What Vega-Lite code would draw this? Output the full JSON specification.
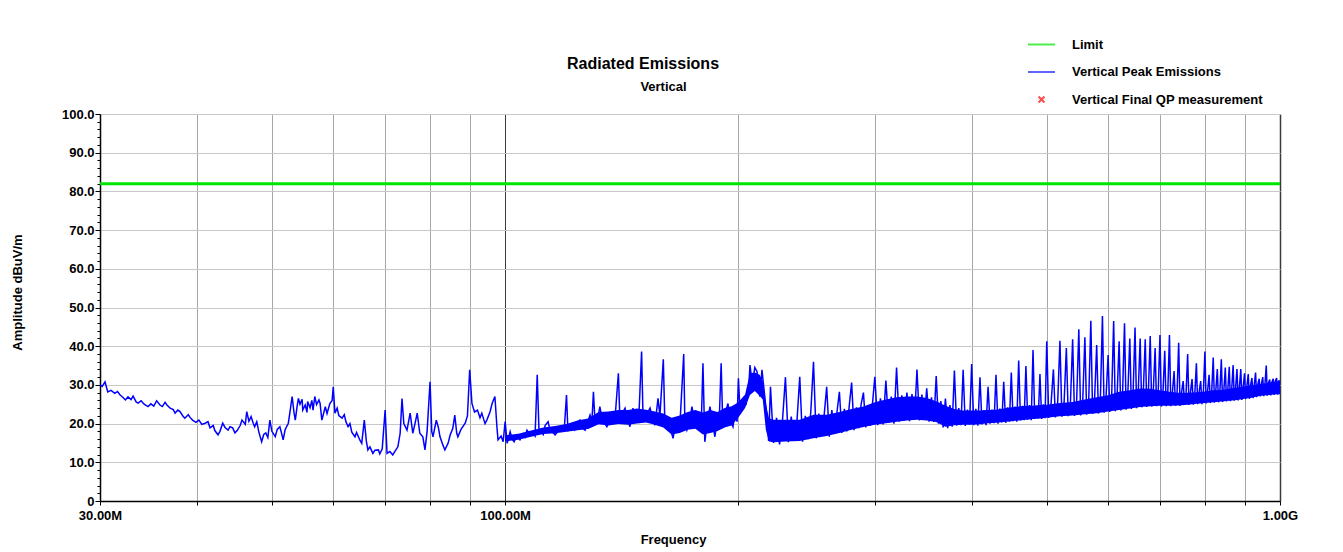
{
  "$schema": "https://vega.github.io/schema/vega-lite/v6.json",
  "autosize": {"type": "none"},
  "padding": {"left": 100, "top": 114, "right": 63, "bottom": 51},
  "width": 1180,
  "height": 387,
  "background": "#ffffff",
  "config": {
    "font": "Liberation Sans",
    "view": {"stroke": null},
    "title": {"color": "#000000"}
  },
  "title": {
    "text": "Radiated Emissions",
    "anchor": "middle",
    "dx": -47,
    "dy": 56,
    "offset": 14,
    "fontSize": 16,
    "fontWeight": "bold"
  },
  "resolve": {"axis": {"x": "independent", "y": "independent"}},
  "datasets": {
    "limit": [
      {"f": 30, "a": 82.0},
      {"f": 1000, "a": 82.0}
    ],
    "qp": [],
    "band": [
      {"f":100,"lo":15.4,"hi":17.0},{"f":104,"lo":15.8,"hi":17.4},{"f":108,"lo":16.6,"hi":18.2},
      {"f":112,"lo":17.3,"hi":19.0},{"f":116,"lo":17.5,"hi":19.4},{"f":120,"lo":17.9,"hi":19.9},
      {"f":124,"lo":18.3,"hi":20.8},{"f":128,"lo":18.6,"hi":21.3},{"f":132,"lo":19.8,"hi":23.0},
      {"f":136,"lo":19.5,"hi":23.1},{"f":140,"lo":19.9,"hi":23.5},{"f":144,"lo":19.7,"hi":23.5},
      {"f":148,"lo":20.0,"hi":23.9},{"f":152,"lo":20.3,"hi":23.6},{"f":156,"lo":19.7,"hi":23.1},
      {"f":160,"lo":19.0,"hi":22.6},{"f":164,"lo":17.2,"hi":21.5},{"f":168,"lo":17.6,"hi":22.1},
      {"f":172,"lo":18.4,"hi":23.0},{"f":176,"lo":18.7,"hi":23.5},{"f":180,"lo":17.2,"hi":22.9},
      {"f":184,"lo":17.6,"hi":23.5},{"f":188,"lo":18.1,"hi":23.0},{"f":192,"lo":19.0,"hi":24.0},
      {"f":196,"lo":19.5,"hi":24.5},{"f":200,"lo":21.6,"hi":25.5},{"f":204,"lo":24.0,"hi":27.5},
      {"f":207,"lo":27.4,"hi":33.0},{"f":210,"lo":28.4,"hi":33.2},{"f":213,"lo":27.2,"hi":32.6},
      {"f":215,"lo":26.2,"hi":31.0},{"f":217,"lo":18.4,"hi":25.2},{"f":219,"lo":15.4,"hi":21.4},
      {"f":222,"lo":15.2,"hi":21.0},{"f":230,"lo":15.4,"hi":21.0},{"f":240,"lo":15.5,"hi":21.0},
      {"f":250,"lo":16.2,"hi":22.3},{"f":260,"lo":16.8,"hi":22.3},{"f":270,"lo":17.6,"hi":23.0},
      {"f":280,"lo":18.4,"hi":23.8},{"f":290,"lo":19.1,"hi":24.4},{"f":300,"lo":19.7,"hi":25.5},
      {"f":310,"lo":20.1,"hi":26.2},{"f":320,"lo":20.5,"hi":26.8},{"f":330,"lo":20.8,"hi":27.0},
      {"f":340,"lo":21.0,"hi":27.0},{"f":350,"lo":20.8,"hi":26.6},{"f":360,"lo":20.4,"hi":25.8},
      {"f":370,"lo":19.2,"hi":24.6},{"f":380,"lo":19.6,"hi":23.8},{"f":390,"lo":19.7,"hi":23.4},
      {"f":400,"lo":19.7,"hi":23.4},{"f":410,"lo":19.8,"hi":23.4},{"f":420,"lo":20.1,"hi":23.5},
      {"f":430,"lo":20.2,"hi":23.6},{"f":440,"lo":20.4,"hi":23.9},{"f":450,"lo":20.6,"hi":24.2},
      {"f":460,"lo":20.8,"hi":24.4},{"f":470,"lo":21.0,"hi":24.6},{"f":480,"lo":21.2,"hi":24.6},
      {"f":490,"lo":21.3,"hi":24.8},{"f":500,"lo":21.5,"hi":24.9},{"f":520,"lo":21.9,"hi":25.3},
      {"f":540,"lo":22.1,"hi":25.6},{"f":560,"lo":22.4,"hi":26.2},{"f":580,"lo":22.7,"hi":26.8},
      {"f":600,"lo":23.1,"hi":27.3},{"f":620,"lo":23.5,"hi":28.2},{"f":640,"lo":23.9,"hi":28.6},
      {"f":660,"lo":24.3,"hi":29.1},{"f":680,"lo":24.5,"hi":29.0},{"f":700,"lo":24.6,"hi":28.6},
      {"f":720,"lo":24.6,"hi":28.2},{"f":740,"lo":24.7,"hi":28.0},{"f":760,"lo":24.9,"hi":28.0},
      {"f":780,"lo":25.1,"hi":28.1},{"f":800,"lo":25.3,"hi":28.3},{"f":820,"lo":25.5,"hi":28.6},
      {"f":840,"lo":25.7,"hi":28.7},{"f":860,"lo":25.9,"hi":29.0},{"f":880,"lo":26.1,"hi":29.3},
      {"f":900,"lo":26.4,"hi":29.6},{"f":920,"lo":26.7,"hi":29.9},{"f":940,"lo":27.1,"hi":30.2},
      {"f":960,"lo":27.3,"hi":30.4},{"f":980,"lo":27.5,"hi":30.8},{"f":1000,"lo":27.6,"hi":31.0}
    ],
    "peak": [
      {"f":30.0,"a":30.0},{"f":30.2,"a":29.6},{"f":30.45,"a":30.8},{"f":30.7,"a":28.2},{"f":31.0,"a":28.6},
      {"f":31.35,"a":27.8},{"f":31.6,"a":28.3},{"f":31.85,"a":27.4},{"f":32.1,"a":26.8},{"f":32.35,"a":26.1},
      {"f":32.6,"a":26.9},{"f":32.9,"a":26.2},{"f":33.1,"a":27.1},{"f":33.4,"a":25.6},{"f":33.6,"a":25.3},
      {"f":33.9,"a":25.9},{"f":34.2,"a":25.0},{"f":34.6,"a":24.4},{"f":34.9,"a":25.1},{"f":35.2,"a":24.5},
      {"f":35.5,"a":25.9},{"f":35.85,"a":24.8},{"f":36.1,"a":24.4},{"f":36.4,"a":25.5},{"f":36.6,"a":24.8},
      {"f":36.95,"a":24.0},{"f":37.3,"a":23.6},{"f":37.5,"a":22.7},{"f":37.8,"a":23.5},{"f":38.05,"a":23.1},
      {"f":38.4,"a":21.9},{"f":38.6,"a":21.4},{"f":39.0,"a":22.3},{"f":39.2,"a":21.6},{"f":39.5,"a":20.9},
      {"f":39.9,"a":20.3},{"f":40.25,"a":20.9},{"f":40.6,"a":19.8},{"f":41.0,"a":20.1},{"f":41.35,"a":20.5},
      {"f":41.6,"a":18.9},{"f":42.0,"a":19.5},{"f":42.2,"a":18.2},{"f":42.6,"a":17.1},{"f":42.85,"a":18.0},
      {"f":43.2,"a":20.1},{"f":43.5,"a":19.0},{"f":43.9,"a":18.3},{"f":44.15,"a":19.2},{"f":44.5,"a":18.9},
      {"f":44.8,"a":17.6},{"f":45.1,"a":18.2},{"f":45.5,"a":19.5},{"f":45.75,"a":20.9},{"f":46.2,"a":19.8},
      {"f":46.4,"a":23.1},{"f":46.7,"a":20.6},{"f":47.0,"a":21.8},{"f":47.3,"a":20.1},{"f":47.5,"a":19.2},
      {"f":47.8,"a":20.5},{"f":48.1,"a":17.8},{"f":48.5,"a":15.3},{"f":48.8,"a":17.2},{"f":49.1,"a":17.6},
      {"f":49.4,"a":16.4},{"f":49.7,"a":20.9},{"f":50.0,"a":18.0},{"f":50.5,"a":16.6},{"f":50.8,"a":18.5},
      {"f":51.2,"a":19.2},{"f":51.5,"a":17.2},{"f":51.7,"a":15.8},{"f":52.0,"a":18.4},{"f":52.5,"a":20.1},
      {"f":52.8,"a":23.5},{"f":53.1,"a":27.0},{"f":53.4,"a":22.8},{"f":53.6,"a":20.9},{"f":53.9,"a":24.6},
      {"f":54.1,"a":26.5},{"f":54.35,"a":25.0},{"f":54.7,"a":26.3},{"f":54.8,"a":23.5},{"f":55.2,"a":24.8},
      {"f":55.5,"a":22.9},{"f":55.6,"a":25.7},{"f":56.0,"a":24.1},{"f":56.3,"a":26.0},{"f":56.5,"a":23.5},
      {"f":56.8,"a":27.0},{"f":57.1,"a":24.9},{"f":57.5,"a":26.1},{"f":57.7,"a":25.2},{"f":58.0,"a":20.9},
      {"f":58.4,"a":23.2},{"f":58.6,"a":24.4},{"f":58.9,"a":22.6},{"f":59.4,"a":25.2},{"f":59.8,"a":26.0},
      {"f":60.0,"a":29.5},{"f":60.3,"a":22.7},{"f":60.7,"a":24.0},{"f":61.0,"a":22.1},{"f":61.6,"a":21.4},
      {"f":62.0,"a":22.3},{"f":62.3,"a":20.5},{"f":62.7,"a":19.2},{"f":63.05,"a":20.0},{"f":63.4,"a":17.8},
      {"f":64.0,"a":16.6},{"f":64.3,"a":17.7},{"f":64.95,"a":15.7},{"f":65.3,"a":14.9},{"f":65.8,"a":20.9},
      {"f":66.2,"a":15.5},{"f":66.5,"a":13.2},{"f":66.9,"a":14.0},{"f":67.5,"a":12.3},{"f":67.9,"a":13.1},
      {"f":68.6,"a":13.2},{"f":68.9,"a":12.2},{"f":69.4,"a":13.5},{"f":70.0,"a":23.5},{"f":70.4,"a":12.3},
      {"f":71.0,"a":12.8},{"f":71.6,"a":11.9},{"f":72.1,"a":12.9},{"f":72.7,"a":14.0},{"f":73.2,"a":17.5},
      {"f":73.6,"a":26.5},{"f":74.0,"a":20.0},{"f":74.7,"a":18.3},{"f":75.4,"a":22.7},{"f":76.0,"a":17.5},
      {"f":76.5,"a":20.0},{"f":77.0,"a":22.7},{"f":77.6,"a":17.5},{"f":78.3,"a":16.6},{"f":78.8,"a":13.2},
      {"f":79.3,"a":18.0},{"f":80.0,"a":30.8},{"f":80.4,"a":18.0},{"f":80.7,"a":16.6},{"f":81.5,"a":20.9},
      {"f":82.0,"a":19.0},{"f":82.4,"a":16.6},{"f":83.1,"a":14.5},{"f":83.6,"a":13.2},{"f":84.4,"a":14.9},
      {"f":84.9,"a":17.0},{"f":85.6,"a":18.8},{"f":86.1,"a":22.2},{"f":86.6,"a":17.5},{"f":86.9,"a":16.6},
      {"f":87.7,"a":18.5},{"f":88.8,"a":20.1},{"f":89.4,"a":22.0},{"f":90.0,"a":33.9},{"f":90.6,"a":25.2},
      {"f":91.3,"a":23.0},{"f":92.1,"a":23.5},{"f":92.8,"a":21.5},{"f":93.3,"a":22.7},{"f":94.2,"a":20.0},
      {"f":94.7,"a":20.9},{"f":95.6,"a":23.0},{"f":96.2,"a":25.2},{"f":97.0,"a":27.0},{"f":97.6,"a":19.0},
      {"f":97.9,"a":15.8},{"f":98.8,"a":16.8},{"f":99.4,"a":15.3},{"f":100.0,"a":20.5},{"f":100.6,"a":14.9},
      {"f":101.5,"a":17.9},{"f":102.1,"a":16.0},{"f":102.7,"a":15.3},{"f":103.6,"a":17.0},{"f":104.5,"a":15.8},
      {"f":105.5,"a":17.3},{"f":106.1,"a":16.5},{"f":106.7,"a":18.3},{"f":107.7,"a":17.2},{"f":108.7,"a":17.5},
      {"f":109.3,"a":16.8},{"f":110.0,"a":32.6},{"f":110.6,"a":17.5},{"f":110.9,"a":18.3},{"f":112.0,"a":17.2},
      {"f":112.6,"a":19.5},{"f":113.6,"a":20.5},{"f":114.2,"a":18.5},{"f":115.4,"a":17.6},{"f":116.0,"a":17.1},
      {"f":117.0,"a":18.0},{"f":117.7,"a":18.8},{"f":118.4,"a":18.0},{"f":119.2,"a":18.5},{"f":120.0,"a":27.4},
      {"f":120.5,"a":18.2},{"f":121.2,"a":18.3},{"f":122.3,"a":19.5},{"f":123.0,"a":18.4},{"f":124.1,"a":20.5},
      {"f":124.9,"a":20.9},{"f":125.6,"a":19.0},{"f":126.8,"a":18.3},{"f":127.6,"a":20.0},{"f":128.7,"a":22.2},
      {"f":129.4,"a":20.5},{"f":130.0,"a":28.2},{"f":130.6,"a":20.5},{"f":131.4,"a":20.1},{"f":132.5,"a":24.4},
      {"f":133.3,"a":21.5},{"f":134.5,"a":20.0},{"f":135.3,"a":19.2},{"f":136.5,"a":21.0},{"f":137.7,"a":21.8},
      {"f":138.5,"a":20.4},{"f":140.0,"a":33.0},{"f":140.6,"a":21.8},{"f":141.5,"a":22.5},{"f":142.8,"a":24.0},
      {"f":143.6,"a":21.5},{"f":144.9,"a":19.2},{"f":146.2,"a":24.0},{"f":147.1,"a":21.0},{"f":148.0,"a":20.5},
      {"f":148.8,"a":22.0},{"f":150.0,"a":38.6},{"f":150.6,"a":22.5},{"f":151.5,"a":20.9},{"f":152.4,"a":22.5},
      {"f":153.8,"a":24.0},{"f":154.7,"a":22.0},{"f":156.1,"a":19.6},{"f":157.5,"a":26.5},{"f":158.4,"a":22.0},
      {"f":160.0,"a":36.6},{"f":160.7,"a":20.9},{"f":162.2,"a":21.5},{"f":163.2,"a":19.2},{"f":164.7,"a":16.2},
      {"f":165.6,"a":19.0},{"f":167.1,"a":20.9},{"f":168.1,"a":19.8},{"f":170.0,"a":38.0},{"f":170.6,"a":20.0},
      {"f":171.6,"a":18.3},{"f":173.2,"a":21.0},{"f":174.2,"a":24.4},{"f":175.3,"a":21.5},{"f":176.8,"a":19.2},
      {"f":177.9,"a":22.0},{"f":179.0,"a":18.0},{"f":180.0,"a":35.6},{"f":181.0,"a":15.3},{"f":182.1,"a":19.5},
      {"f":183.8,"a":24.4},{"f":184.9,"a":21.0},{"f":186.5,"a":16.6},{"f":187.7,"a":20.5},{"f":188.8,"a":19.0},
      {"f":190.0,"a":35.6},{"f":190.9,"a":20.1},{"f":192.2,"a":22.5},{"f":193.9,"a":25.2},{"f":195.0,"a":21.0},
      {"f":196.8,"a":19.2},{"f":198.0,"a":23.0},{"f":199.2,"a":20.5},{"f":200.0,"a":31.7},{"f":201.0,"a":23.0},
      {"f":202.2,"a":23.5},{"f":203.4,"a":26.0},{"f":204.6,"a":24.8},{"f":205.2,"a":27.8},{"f":206.4,"a":30.5},
      {"f":207.0,"a":35.1},{"f":208.2,"a":31.0},{"f":208.8,"a":31.3},{"f":210.0,"a":34.5},{"f":211.4,"a":33.4},
      {"f":212.0,"a":30.0},{"f":213.2,"a":27.0},{"f":214.5,"a":33.9},{"f":215.1,"a":31.5},{"f":216.3,"a":27.0},
      {"f":217.6,"a":22.0},{"f":218.2,"a":19.2},{"f":218.8,"a":15.5},{"f":220.0,"a":29.5},
      {"f":222,"a":15.0},{"f":224,"a":21.5},{"f":226,"a":14.6},{"f":228,"a":20.8},{"f":230,"a":32.0},
      {"f":232,"a":15.2},{"f":234,"a":21.8},{"f":236,"a":15.5},{"f":238,"a":20.5},{"f":240,"a":32.1},
      {"f":242,"a":15.3},{"f":244,"a":22.0},{"f":246,"a":16.0},{"f":248,"a":23.0},{"f":250,"a":36.0},
      {"f":252,"a":16.2},{"f":254,"a":22.6},{"f":256,"a":16.8},{"f":258,"a":22.0},{"f":260,"a":29.5},
      {"f":262,"a":16.6},{"f":264,"a":23.5},{"f":266,"a":17.4},{"f":268,"a":22.8},{"f":270,"a":28.2},
      {"f":272,"a":17.6},{"f":274,"a":23.8},{"f":276,"a":18.0},{"f":278,"a":24.5},{"f":280,"a":30.6},
      {"f":282,"a":18.3},{"f":284,"a":24.2},{"f":286,"a":18.8},{"f":288,"a":25.0},{"f":290,"a":28.0},
      {"f":292,"a":19.0},{"f":294,"a":24.6},{"f":296,"a":19.4},{"f":298,"a":25.5},{"f":300,"a":32.1},
      {"f":302.5,"a":19.6},{"f":305,"a":26.5},{"f":307.5,"a":19.8},{"f":310,"a":31.1},
      {"f":312.5,"a":20.2},{"f":315,"a":27.0},{"f":317.5,"a":20.0},{"f":320,"a":34.5},
      {"f":322.5,"a":20.5},{"f":325,"a":27.3},{"f":327.5,"a":20.8},{"f":330,"a":28.0},
      {"f":332.5,"a":20.6},{"f":335,"a":27.6},{"f":337.5,"a":21.0},{"f":340,"a":34.0},
      {"f":342.5,"a":20.8},{"f":345,"a":27.5},{"f":347.5,"a":21.0},{"f":350,"a":29.1},
      {"f":352.5,"a":20.5},{"f":355,"a":26.8},{"f":357.5,"a":20.4},{"f":360,"a":32.3},
      {"f":362.5,"a":20.0},{"f":365,"a":25.8},{"f":367.5,"a":19.0},{"f":370,"a":26.5},
      {"f":372.5,"a":18.8},{"f":375,"a":24.8},{"f":377.5,"a":19.2},{"f":380,"a":33.7},
      {"f":382.5,"a":19.5},{"f":385,"a":24.0},{"f":387.5,"a":19.6},{"f":390,"a":33.9},
      {"f":392.5,"a":19.4},{"f":395,"a":23.6},{"f":397.5,"a":19.8},{"f":400,"a":35.4},
      {"f":402.5,"a":19.6},{"f":405,"a":23.8},{"f":407.5,"a":19.5},{"f":410,"a":32.0},
      {"f":412.5,"a":19.8},{"f":415,"a":23.5},{"f":417.5,"a":19.6},{"f":420,"a":29.5},
      {"f":422.5,"a":20.0},{"f":425,"a":23.6},{"f":427.5,"a":20.1},{"f":430,"a":32.6},
      {"f":432.5,"a":20.0},{"f":435,"a":23.9},{"f":437.5,"a":20.3},{"f":440,"a":30.8},
      {"f":442.5,"a":20.2},{"f":445,"a":24.2},{"f":447.5,"a":20.5},{"f":450,"a":33.2},
      {"f":452.5,"a":20.6},{"f":455,"a":24.4},{"f":457.5,"a":20.5},{"f":460,"a":36.3},
      {"f":462.5,"a":20.8},{"f":465,"a":24.6},{"f":467.5,"a":20.9},{"f":470,"a":34.9},
      {"f":472.5,"a":21.0},{"f":475,"a":24.8},{"f":477.5,"a":20.9},{"f":480,"a":39.0},
      {"f":482.5,"a":21.2},{"f":485,"a":24.6},{"f":487.5,"a":21.3},{"f":490,"a":32.8},
      {"f":492.5,"a":21.2},{"f":495,"a":25.0},{"f":497.5,"a":21.4},{"f":500,"a":41.3},
      {"f":503,"a":21.5},{"f":506.5,"a":25.2},{"f":510,"a":34.0},
      {"f":513,"a":21.6},{"f":516.5,"a":25.4},{"f":520,"a":41.4},
      {"f":523,"a":21.8},{"f":526.5,"a":25.6},{"f":530,"a":39.5},
      {"f":533,"a":21.9},{"f":536.5,"a":25.5},{"f":540,"a":41.8},
      {"f":543,"a":22.0},{"f":546.5,"a":26.0},{"f":550,"a":44.4},
      {"f":553,"a":22.1},{"f":556.5,"a":26.2},{"f":560,"a":42.3},
      {"f":563,"a":22.3},{"f":566.5,"a":26.4},{"f":570,"a":46.6},
      {"f":573,"a":22.5},{"f":576.5,"a":26.8},{"f":580,"a":40.3},
      {"f":583,"a":22.6},{"f":586.5,"a":27.0},{"f":590,"a":47.8},
      {"f":593,"a":22.8},{"f":596.5,"a":27.4},{"f":600,"a":37.7},
      {"f":603,"a":23.0},{"f":606.5,"a":27.6},{"f":610,"a":46.5},
      {"f":613,"a":23.2},{"f":616.5,"a":28.0},{"f":620,"a":41.3},
      {"f":623,"a":23.4},{"f":626.5,"a":28.5},{"f":630,"a":45.9},
      {"f":633,"a":23.6},{"f":636.5,"a":28.8},{"f":640,"a":42.0},
      {"f":643,"a":23.8},{"f":646.5,"a":29.0},{"f":650,"a":44.8},
      {"f":653,"a":24.0},{"f":656.5,"a":29.2},{"f":660,"a":42.0},
      {"f":663,"a":24.2},{"f":666.5,"a":29.4},{"f":670,"a":41.8},
      {"f":673,"a":24.3},{"f":676.5,"a":29.0},{"f":680,"a":42.6},
      {"f":683,"a":24.4},{"f":686.5,"a":29.2},{"f":690,"a":39.5},
      {"f":693,"a":24.5},{"f":696.5,"a":28.8},{"f":700,"a":42.9},
      {"f":703,"a":24.4},{"f":706.5,"a":28.6},{"f":710,"a":38.8},
      {"f":713,"a":24.5},{"f":716.5,"a":28.4},{"f":720,"a":42.9},
      {"f":723,"a":24.5},{"f":726.5,"a":28.2},{"f":730,"a":33.6},
      {"f":733,"a":24.6},{"f":736.5,"a":28.0},{"f":740,"a":40.9},
      {"f":743,"a":24.6},{"f":746.5,"a":28.2},{"f":750,"a":31.0},
      {"f":753,"a":24.8},{"f":756.5,"a":28.0},{"f":760,"a":38.0},
      {"f":763,"a":24.8},{"f":766.5,"a":28.2},{"f":770,"a":31.5},
      {"f":773,"a":24.9},{"f":776.5,"a":28.0},{"f":780,"a":35.6},
      {"f":783,"a":25.0},{"f":786.5,"a":28.3},{"f":790,"a":31.0},
      {"f":793,"a":25.0},{"f":796.5,"a":28.4},{"f":800,"a":38.6},
      {"f":803,"a":25.2},{"f":806.5,"a":28.5},{"f":810,"a":32.6},
      {"f":813,"a":25.3},{"f":816.5,"a":28.6},{"f":820,"a":37.1},
      {"f":823,"a":25.4},{"f":826.5,"a":28.8},{"f":830,"a":34.1},
      {"f":833,"a":25.5},{"f":836.5,"a":28.6},{"f":840,"a":36.6},
      {"f":843,"a":25.6},{"f":846.5,"a":28.9},{"f":850,"a":34.5},
      {"f":853,"a":25.7},{"f":856.5,"a":29.0},{"f":860,"a":34.7},
      {"f":863,"a":25.8},{"f":866.5,"a":29.2},{"f":870,"a":35.1},
      {"f":873,"a":25.9},{"f":876.5,"a":29.3},{"f":880,"a":34.1},
      {"f":883,"a":26.0},{"f":886.5,"a":29.5},{"f":890,"a":34.1},
      {"f":893,"a":26.1},{"f":896.5,"a":29.6},{"f":900,"a":33.0},
      {"f":903,"a":26.3},{"f":906.5,"a":29.8},{"f":910,"a":32.8},
      {"f":913,"a":26.4},{"f":916.5,"a":30.0},{"f":920,"a":31.8},
      {"f":923,"a":26.6},{"f":926.5,"a":30.1},{"f":930,"a":33.2},
      {"f":933,"a":26.8},{"f":936.5,"a":30.2},{"f":940,"a":31.6},
      {"f":943,"a":27.0},{"f":946.5,"a":30.4},{"f":950,"a":32.0},
      {"f":953,"a":27.1},{"f":956.5,"a":30.5},{"f":960,"a":35.0},
      {"f":963,"a":27.2},{"f":966.5,"a":30.6},{"f":970,"a":31.4},
      {"f":973,"a":27.3},{"f":976.5,"a":30.8},{"f":980,"a":31.6},
      {"f":983,"a":27.4},{"f":986.5,"a":31.0},{"f":990,"a":31.8},
      {"f":993,"a":27.5},{"f":996.5,"a":31.2},{"f":1000,"a":30.5}
    ]
  },
  "layer": [
    {
      "data": {"name": "limit"},
      "mark": {"type": "line", "color": "#00e600", "strokeWidth": 3, "clip": true},
      "encoding": {
        "x": {
          "field": "f",
          "type": "quantitative",
          "scale": {"type": "log", "domain": [30, 1000], "nice": false},
          "axis": {
            "orient": "bottom",
            "title": "Frequency",
            "titleFontSize": 13,
            "titleFontWeight": "bold",
            "titleColor": "#000000",
            "titleX": 573,
            "titleY": 38,
            "titleBaseline": "middle",
            "values": [30, 40, 50, 60, 70, 80, 90, 100, 200, 300, 400, 500, 600, 700, 800, 900, 1000],
            "labelExpr": "datum.value == 1000 ? '1.00G' : (datum.value == 30 || datum.value == 100) ? format(datum.value, '.2f') + 'M' : ''",
            "labelFontSize": 13,
            "labelFontWeight": "bold",
            "labelColor": "#000000",
            "labelPadding": 4,
            "labelOverlap": false,
            "labelFlush": false,
            "grid": true,
            "gridColor": {"condition": {"test": "datum.value == 100 || datum.value == 1000", "value": "#3a3a3a"}, "value": "#a6a6a6"},
            "gridWidth": {"condition": {"test": "datum.value == 1000", "value": 1.5}, "value": 1},
            "domainColor": "#000000",
            "domainWidth": 1.5,
            "tickColor": "#000000",
            "tickSize": 4
          }
        },
        "y": {
          "field": "a",
          "type": "quantitative",
          "scale": {"domain": [0, 100], "nice": false, "zero": true},
          "axis": {
            "orient": "left",
            "title": "Amplitude dBuV/m",
            "titleFontSize": 13,
            "titleFontWeight": "bold",
            "titleColor": "#000000",
            "titleAngle": -90,
            "titleAlign": "center",
            "titleBaseline": "middle",
            "titleX": -83,
            "titleY": 178,
            "values": [0, 2, 4, 6, 8, 10, 12, 14, 16, 18, 20, 22, 24, 26, 28, 30, 32, 34, 36, 38, 40, 42, 44, 46, 48, 50, 52, 54, 56, 58, 60, 62, 64, 66, 68, 70, 72, 74, 76, 78, 80, 82, 84, 86, 88, 90, 92, 94, 96, 98, 100],
            "labelExpr": "datum.value % 10 == 0 ? (datum.value == 0 ? '0' : format(datum.value, '.1f')) : ''",
            "labelFontSize": 13,
            "labelFontWeight": "bold",
            "labelColor": "#000000",
            "labelPadding": 1,
            "labelOverlap": false,
            "labelFlush": false,
            "grid": true,
            "gridColor": "#c8c8c8",
            "gridOpacity": {"condition": {"test": "datum.value % 10 != 0 || datum.value == 0", "value": 0}, "value": 1},
            "domainColor": "#000000",
            "domainWidth": 1.5,
            "tickColor": "#000000",
            "tickSize": {"condition": {"test": "datum.value % 10 == 0", "value": 5}, "value": 3}
          }
        }
      }
    },
    {
      "data": {"name": "band"},
      "mark": {"type": "area", "color": "#0000ff", "opacity": 1, "clip": true},
      "encoding": {
        "x": {"field": "f", "type": "quantitative", "axis": null},
        "y": {"field": "hi", "type": "quantitative", "axis": null},
        "y2": {"field": "lo"}
      }
    },
    {
      "data": {"name": "peak"},
      "mark": {"type": "line", "color": "#0000ff", "strokeWidth": 1.5, "clip": true},
      "encoding": {
        "x": {"field": "f", "type": "quantitative", "axis": null},
        "y": {"field": "a", "type": "quantitative", "axis": null}
      }
    },
    {
      "data": {"name": "qp"},
      "mark": {"type": "point", "filled": false, "clip": true},
      "encoding": {
        "x": {
          "field": "f",
          "type": "quantitative",
          "axis": {
            "orient": "top",
            "title": "Vertical",
            "titleFontSize": 13,
            "titleFontWeight": "bold",
            "titleColor": "#000000",
            "titleX": 563,
            "titleY": -24,
            "titleAlign": "center",
            "titleBaseline": "alphabetic",
            "labels": false,
            "ticks": false,
            "domain": false,
            "grid": false
          }
        },
        "y": {"field": "a", "type": "quantitative", "axis": null},
        "color": {
          "field": "series",
          "type": "nominal",
          "scale": {
            "domain": ["Limit", "Vertical Peak Emissions", "Vertical Final QP measurement"],
            "range": ["#00e600", "#2020ff", "#ff0000"]
          },
          "legend": {
            "title": null,
            "orient": "none",
            "legendX": 927,
            "legendY": -84,
            "padding": 0,
            "symbolSize": 729,
            "symbolStrokeWidth": 2,
            "symbolFillColor": "transparent",
            "labelFontSize": 13,
            "labelFontWeight": "bold",
            "labelColor": "#000000",
            "labelOffset": 16,
            "labelLimit": 0,
            "rowPadding": 5.5
          }
        },
        "shape": {
          "field": "series",
          "type": "nominal",
          "scale": {
            "domain": ["Limit", "Vertical Peak Emissions", "Vertical Final QP measurement"],
            "range": ["M-1,0L1,0", "M-1,0L1,0", "M-0.22,-0.22L0.22,0.22M-0.22,0.22L0.22,-0.22"]
          },
          "legend": {
            "title": null,
            "orient": "none",
            "legendX": 927,
            "legendY": -84,
            "padding": 0,
            "symbolSize": 729,
            "symbolStrokeWidth": 2,
            "symbolFillColor": "transparent",
            "labelFontSize": 13,
            "labelFontWeight": "bold",
            "labelColor": "#000000",
            "labelOffset": 16,
            "labelLimit": 0,
            "rowPadding": 5.5
          }
        }
      }
    }
  ]
}
